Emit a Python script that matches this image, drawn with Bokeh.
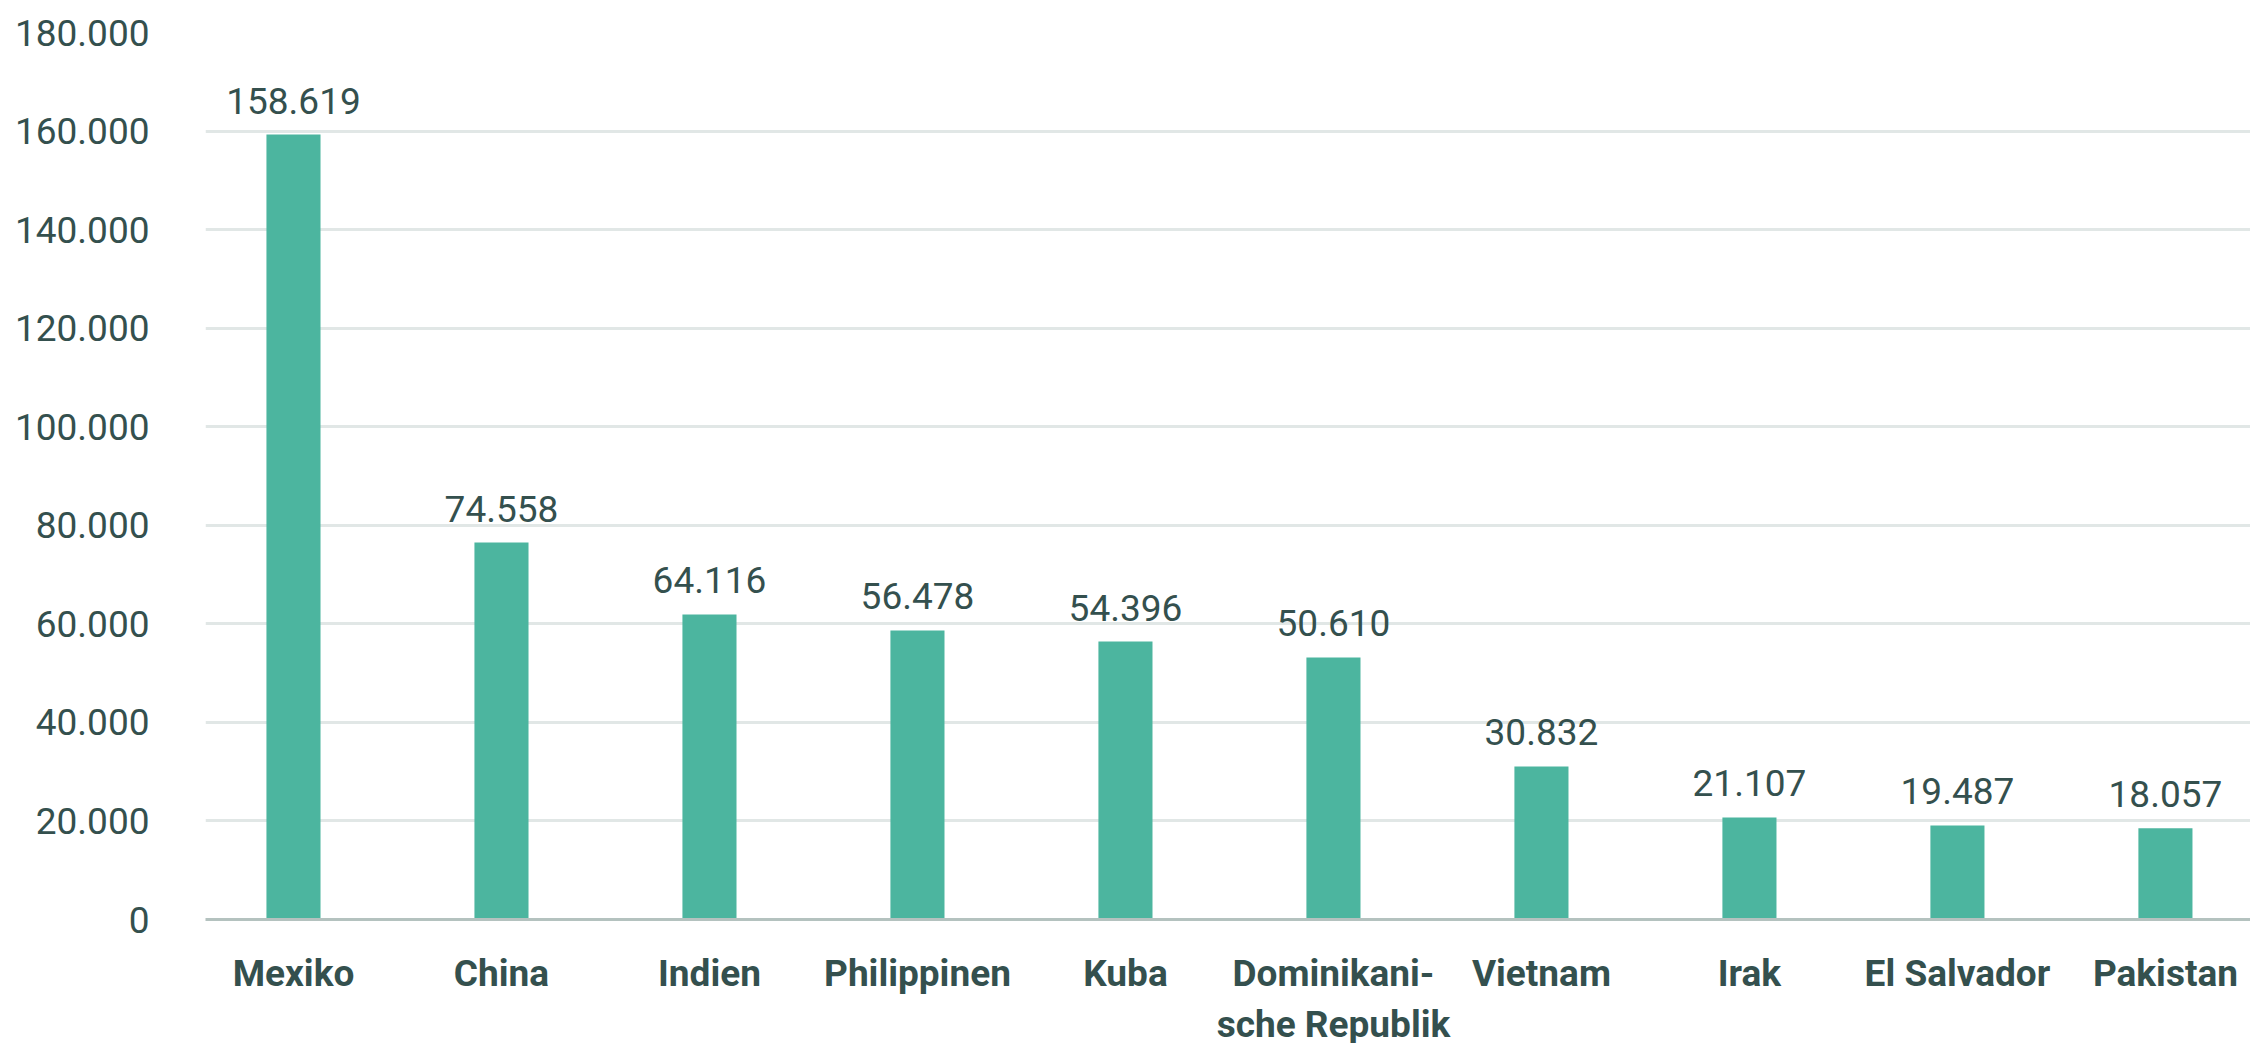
from bokeh.plotting import figure
from bokeh.models import ColumnDataSource, LabelSet, FixedTicker, Range1d
from bokeh.core.properties import value
from bokeh.embed import file_html
from bokeh.resources import INLINE

countries = ["Mexiko", "China", "Indien", "Philippinen", "Kuba",
             "Dominikani-\nsche Republik", "Vietnam", "Irak", "El Salvador", "Pakistan"]
bar_values = [159300, 76500, 61900, 58650, 56400, 53170, 31050, 20700, 19100, 18500]
value_labels = ["158.619", "74.558", "64.116", "56.478", "54.396",
                "50.610", "30.832", "21.107", "19.487", "18.057"]
y_ticks = [0, 20000, 40000, 60000, 80000, 100000, 120000, 140000, 160000, 180000]
y_tick_labels = ["0", "20.000", "40.000", "60.000", "80.000", "100.000",
                 "120.000", "140.000", "160.000", "180.000"]

TEXT = "#34504e"
BAR = "#4cb59f"

xs = list(range(len(countries)))
src = ColumnDataSource(dict(x=xs, top=bar_values, lab=value_labels))

p = figure(frame_width=2045, frame_height=887, output_backend="svg", toolbar_location=None,
           x_range=Range1d(-0.423, 9.409), y_range=Range1d(0, 180000),
           min_border_left=205, min_border_right=0, min_border_top=32,
           min_border_bottom=124)
p.outline_line_color = None
p.background_fill_color = "white"
p.border_fill_color = "white"

p.vbar(x="x", top="top", width=0.26, bottom=0, source=src,
       fill_color=BAR, line_color=None)

labels = LabelSet(x="x", y="top", text="lab", source=src, y_offset=21,
                  text_align="center", text_baseline="alphabetic",
                  text_font=value("Roboto"), text_font_size=value("37px"),
                  text_color=value(TEXT))
p.add_layout(labels)

# y axis
p.yaxis.ticker = FixedTicker(ticks=y_ticks)
p.yaxis.major_label_overrides = {t: s for t, s in zip(y_ticks, y_tick_labels)}
p.yaxis.axis_line_color = None
p.yaxis.major_tick_line_color = None
p.yaxis.minor_tick_line_color = None
p.yaxis.major_label_standoff = 50
p.yaxis.major_label_text_font = "Roboto"
p.yaxis.major_label_text_font_size = "37px"
p.yaxis.major_label_text_color = TEXT

# x axis
p.xaxis.ticker = FixedTicker(ticks=xs)
p.xaxis.major_label_overrides = {i: c for i, c in zip(xs, countries)}
p.xaxis.axis_line_color = "#b4c2bf"
p.xaxis.axis_line_width = 3
p.xaxis.major_tick_line_color = None
p.xaxis.minor_tick_line_color = None
p.xaxis.major_label_standoff = 26
p.xaxis.major_label_text_font = "Roboto"
p.xaxis.major_label_text_font_style = "bold"
p.xaxis.major_label_text_font_size = "37px"
p.xaxis.major_label_text_color = TEXT

p.xgrid.grid_line_color = None
p.ygrid.ticker = FixedTicker(ticks=y_ticks)
p.ygrid.grid_line_color = "#e1e7e6"
p.ygrid.grid_line_width = 3

open("out.html", "w").write(file_html(p, INLINE))
